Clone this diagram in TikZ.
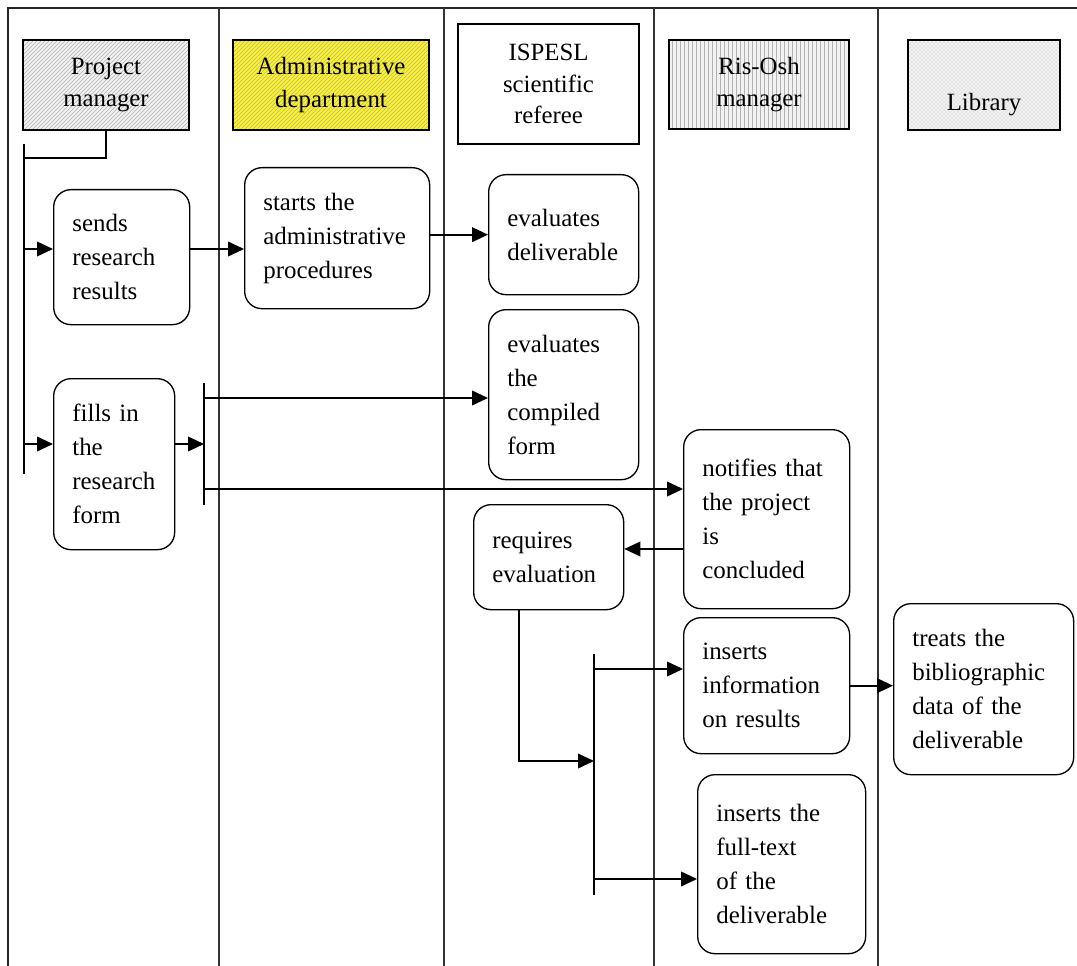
\documentclass[tikz,border=0pt]{standalone}
\usepackage{fontspec}
\setmainfont{Liberation Serif}
\usepackage{tikz}
\usetikzlibrary{arrows.meta,patterns}

\tikzset{
    lane/.style={line width=0.9pt, black!80},
    header/.style={draw, line width=1.3pt, align=center, inner sep=0pt,
        font=\fontsize{18.6}{24.5}\selectfont},
    activity/.style 2 args={draw, line width=1pt, rounded corners=13pt, align=left,
        inner xsep=14pt, inner ysep=0pt, text width=#1, minimum height=#2,
        font=\fontsize{18.7}{25.5}\selectfont},
    flow/.style={line width=1.3pt, -{Triangle[length=12pt,width=11pt]}},
    bar/.style={line width=1.3pt}
}

\begin{document}
\begin{tikzpicture}[x=0.75pt,y=-0.75pt]
    \useasboundingbox (0,0) rectangle (1077,966);
    \draw[line width=1.6pt, black!85] (8,966) -- (8,8) -- (1077,8);
    \foreach \lx in {219,444,654,878}
        \draw[lane] (\lx,8) -- (\lx,966);

    \node[header, minimum width=124.5pt, minimum height=67.5pt,
        preaction={fill=gray!10}, pattern=north east lines, pattern color=gray!60]
        (pm) at (106,85) {Project\\manager};
    \node[header, minimum width=147pt, minimum height=67.5pt,
        preaction={fill=yellow!90}, pattern=north east lines, pattern color=gray!60]
        (admin) at (331,85) {Administrative\\department};
    \node[header, minimum width=135.75pt, minimum height=90pt, fill=white,
        font=\fontsize{18.6}{23.5}\selectfont]
        (ispesl) at (548.5,84) {ISPESL\\scientific\\referee};
    \node[header, minimum width=135pt, minimum height=66.75pt,
        preaction={fill=gray!10}, pattern=vertical lines, pattern color=gray!60]
        (risosh) at (759,84.5) {Ris-Osh\\manager};
    \node[header, minimum width=114pt, minimum height=67.5pt,
        preaction={fill=gray!10}, pattern=crosshatch dots, pattern color=gray!55]
        (library) at (984,85) {\strut\\Library};

    \node[activity={74pt}{101.25pt}, anchor=north west] (sends) at (53,189) {sends\\research\\results};
    \node[activity={110.75pt}{105.75pt}, anchor=north west] (starts) at (244,167) {starts the\\administrative\\procedures};
    \node[activity={84.5pt}{90pt}, anchor=north west] (evaldel) at (488,174) {evaluates\\deliverable};
    \node[activity={84.5pt}{127.5pt}, anchor=north west] (evalform) at (488,309) {evaluates\\the\\compiled\\form};
    \node[activity={62.75pt}{128.25pt}, anchor=north west] (fills) at (53,378) {fills in\\the\\research\\form};
    \node[activity={96.5pt}{134.25pt}, anchor=north west] (notifies) at (683,429) {notifies that\\the project\\is\\concluded};
    \node[activity={84.5pt}{78.75pt}, anchor=north west] (requires) at (473,504) {requires\\evaluation};
    \node[activity={96.5pt}{102pt}, anchor=north west] (insinfo) at (683,617) {inserts\\information\\on results};
    \node[activity={107pt}{128.25pt}, anchor=north west] (treats) at (893,603) {treats the\\bibliographic\\data of the\\deliverable};
    \node[activity={98pt}{134.25pt}, anchor=north west] (fulltext) at (697,774) {inserts the\\full-text\\of the\\deliverable};

    \coordinate (spine) at (24,144);
    \coordinate (spineend) at (24,474);
    \coordinate (bara) at (204,383);
    \coordinate (baraend) at (204,505);
    \coordinate (barb) at (594,654);
    \coordinate (barbend) at (594,895);

    \draw[bar] (spine) -- (spineend);
    \draw[bar] (bara) -- (baraend);
    \draw[bar] (barb) -- (barbend);
    \draw[line width=1pt] (pm.south) |- (spine |- 0,158);

    \draw[flow] (spine |- 0,249) -- (sends.west |- 0,249);
    \draw[flow] (spine |- 0,444) -- (fills.west |- 0,444);
    \draw[flow] (sends.east |- 0,249) -- (starts.west |- 0,249);
    \draw[flow] (starts.east |- evaldel.west) -- (evaldel.west);
    \draw[flow] (fills.east |- 0,444) -- (bara |- 0,444);
    \draw[flow] (bara |- 0,398) -- (evalform.west |- 0,398);
    \draw[flow] (bara |- 0,489) -- (notifies.west |- 0,489);
    \draw[flow] (notifies.west |- 0,549) -- (requires.east |- 0,549);
    \draw[flow] (519,0 |- requires.south) |- (barb |- 0,761);
    \draw[flow] (barb |- 0,669) -- (insinfo.west |- 0,669);
    \draw[flow] (barb |- 0,879) -- (fulltext.west |- 0,879);
    \draw[flow] (insinfo.east) -- (treats.west |- insinfo.east);
\end{tikzpicture}
\end{document}
